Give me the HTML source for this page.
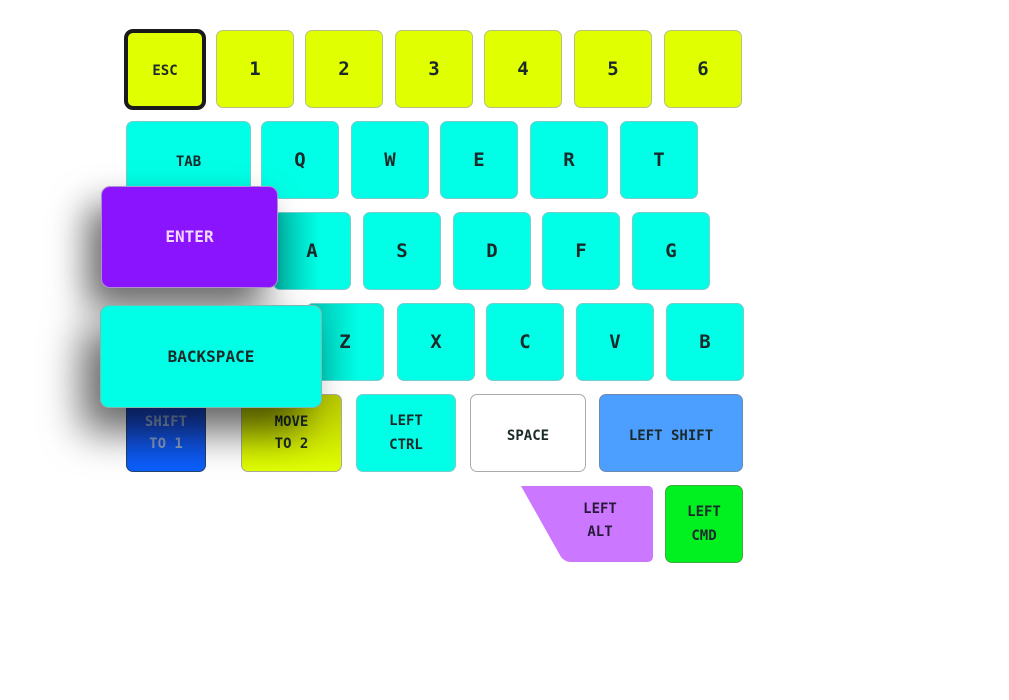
<!DOCTYPE html>
<html><head><meta charset="utf-8"><style>
body{margin:0;width:1009px;height:700px;background:#fff;position:relative;overflow:hidden;font-family:"DejaVu Sans Mono","Liberation Mono",monospace;font-weight:bold}
.k{position:absolute;box-sizing:border-box;border:1px solid #9aa;border-radius:7px;display:flex;align-items:center;justify-content:center;text-align:center;color:#1a2a2a;font-size:19px;line-height:24px}
.y{background:#e0ff00;border-color:#b8c080}
.c{background:#00ffe6;border-color:#7cc}
.s{font-size:14px}
</style></head><body>
<div class="k y s" style="left:124px;top:29px;width:82px;height:81px;border:4px solid #1a1a1a;border-radius:9px;padding-top:3px">ESC</div>
<div class="k y" style="left:216px;top:30px;width:78px;height:78px">1</div>
<div class="k y" style="left:305px;top:30px;width:78px;height:78px">2</div>
<div class="k y" style="left:395px;top:30px;width:78px;height:78px">3</div>
<div class="k y" style="left:484px;top:30px;width:78px;height:78px">4</div>
<div class="k y" style="left:574px;top:30px;width:78px;height:78px">5</div>
<div class="k y" style="left:664px;top:30px;width:78px;height:78px">6</div>

<div class="k c s" style="left:126px;top:121px;width:125px;height:78px;padding-top:4px">TAB</div>
<div class="k c" style="left:261px;top:121px;width:78px;height:78px">Q</div>
<div class="k c" style="left:351px;top:121px;width:78px;height:78px">W</div>
<div class="k c" style="left:440px;top:121px;width:78px;height:78px">E</div>
<div class="k c" style="left:530px;top:121px;width:78px;height:78px">R</div>
<div class="k c" style="left:620px;top:121px;width:78px;height:78px">T</div>

<div class="k c" style="left:273px;top:212px;width:78px;height:78px;background:linear-gradient(90deg,#00b8a8,#00ffe6 60%)">A</div>
<div class="k c" style="left:363px;top:212px;width:78px;height:78px">S</div>
<div class="k c" style="left:453px;top:212px;width:78px;height:78px">D</div>
<div class="k c" style="left:542px;top:212px;width:78px;height:78px">F</div>
<div class="k c" style="left:632px;top:212px;width:78px;height:78px">G</div>

<div class="k c" style="left:306px;top:303px;width:78px;height:78px;background:linear-gradient(90deg,#00c0b0,#00ffe6 70%)">Z</div>
<div class="k c" style="left:397px;top:303px;width:78px;height:78px">X</div>
<div class="k c" style="left:486px;top:303px;width:78px;height:78px">C</div>
<div class="k c" style="left:576px;top:303px;width:78px;height:78px">V</div>
<div class="k c" style="left:666px;top:303px;width:78px;height:78px">B</div>

<div class="k s" style="left:126px;top:394px;width:80px;height:78px;background:linear-gradient(#1a3fb8,#0a5fff);color:#8aa0c8;line-height:22px;border-color:#246">SHIFT<br>TO 1</div>
<div class="k s" style="left:241px;top:394px;width:101px;height:78px;background:linear-gradient(#b8c800,#e0ff00);line-height:22px;border-color:#aa9">MOVE<br>TO 2</div>
<div class="k c s" style="left:356px;top:394px;width:100px;height:78px;line-height:24px">LEFT<br>CTRL</div>
<div class="k s" style="left:470px;top:394px;width:116px;height:78px;background:#fff;border-color:#aaa;padding-top:6px">SPACE</div>
<div class="k s" style="left:599px;top:394px;width:144px;height:78px;background:#4d9fff;border-color:#6a8ab0;padding-top:6px">LEFT SHIFT</div>

<svg style="position:absolute;left:518px;top:484px" width="138" height="80"><path d="M3 2 L130 2 Q135 2 135 8 L135 72 Q135 78 129 78 L53 78 Q47 78 43 73 Z" fill="#cc77ff"/><text x="82" y="29" font-family="DejaVu Sans Mono" font-weight="bold" font-size="14" text-anchor="middle" fill="#2a1a3a">LEFT</text><text x="82" y="52" font-family="DejaVu Sans Mono" font-weight="bold" font-size="14" text-anchor="middle" fill="#2a1a3a">ALT</text></svg>
<div class="k s" style="left:665px;top:485px;width:78px;height:78px;background:#00f020;border-color:#4a4;line-height:24px">LEFT<br>CMD</div>

<div class="k s" style="left:101px;top:186px;width:177px;height:102px;background:#8b14ff;color:#f0d8ff;font-size:16px;border-color:#b090d0;border-radius:9px;box-shadow:-14px 20px 36px rgba(0,0,0,0.6)">ENTER</div>
<div class="k" style="left:100px;top:305px;width:222px;height:103px;background:#00ffe6;font-size:16px;border-color:#80b8b0;border-radius:9px;box-shadow:-18px 24px 40px rgba(0,0,0,0.6)">BACKSPACE</div>
</body></html>
